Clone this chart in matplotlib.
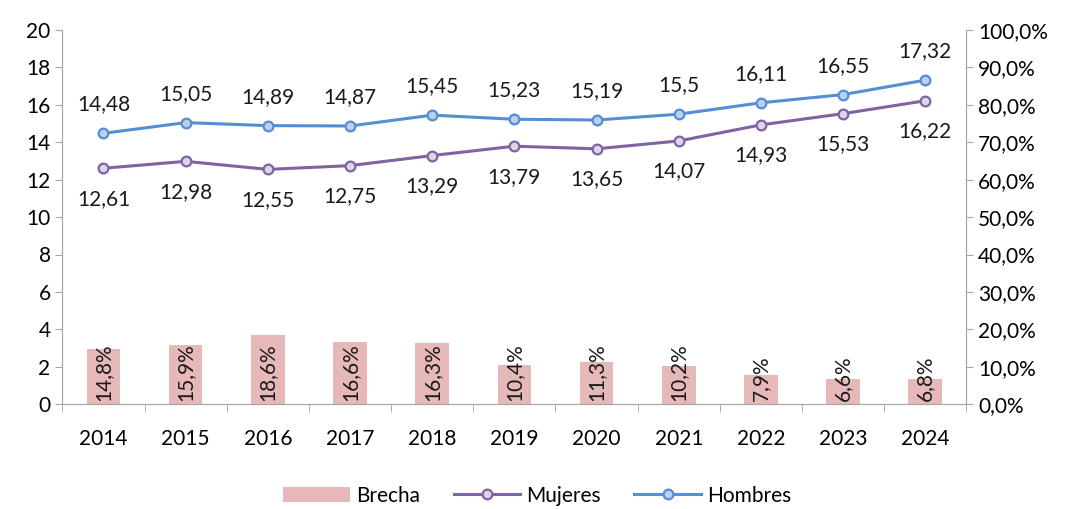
import matplotlib.pyplot as plt
import numpy as np

years = ['2014', '2015', '2016', '2017', '2018', '2019', '2020', '2021', '2022', '2023', '2024']
hombres = [14.48, 15.05, 14.89, 14.87, 15.45, 15.23, 15.19, 15.5, 16.11, 16.55, 17.32]
mujeres = [12.61, 12.98, 12.55, 12.75, 13.29, 13.79, 13.65, 14.07, 14.93, 15.53, 16.22]
brecha = [14.8, 15.9, 18.6, 16.6, 16.3, 10.4, 11.3, 10.2, 7.9, 6.6, 6.8]


def fmt(v, dec=None):
    s = f'{v:.{dec}f}' if dec is not None else f'{v:g}'
    return s.replace('.', ',')


plt.rcParams['font.family'] = ['Lato', 'DejaVu Sans']
plt.rcParams['font.size'] = 15

fig, ax = plt.subplots(figsize=(10.75, 5.09), dpi=100)
fig.subplots_adjust(left=0.058, right=0.899, top=0.941, bottom=0.206)
ax2 = ax.twinx()

x = np.arange(len(years))
ax2.bar(x, brecha, width=0.41, color='#E6B9B8', zorder=1, label='Brecha')
for xi, b in zip(x, brecha):
    ax2.text(xi, 0.9, fmt(b, 1) + '%', rotation=90, ha='center', va='bottom',
             fontsize=15, color='#1a1a1a')

ax.set_zorder(ax2.get_zorder() + 1)
ax.patch.set_visible(False)

ax.plot(x, mujeres, color='#8064A2', lw=2.2, marker='o', ms=7,
        mfc='#DDD5E8', mec='#8064A2', mew=1.6, label='Mujeres')
ax.plot(x, hombres, color='#558ED5', lw=2.2, marker='o', ms=7,
        mfc='#BBD0EA', mec='#558ED5', mew=1.6, label='Hombres')

for xi, h, m in zip(x, hombres, mujeres):
    ax.text(xi, h + 1.0, fmt(h), ha='center', va='bottom', fontsize=15, color='#1a1a1a')
    ax.text(xi, m - 1.1, fmt(m), ha='center', va='top', fontsize=15, color='#1a1a1a')

ax.set_xlim(-0.5, len(years) - 0.5)
ax.set_ylim(0, 20)
ax.set_yticks(np.arange(0, 21, 2))
ax2.set_ylim(0, 100)
ax2.set_yticks(np.arange(0, 101, 10))
ax2.set_yticklabels([fmt(v, 1) + '%' for v in np.arange(0, 101, 10)])

ax.set_xticks(x)
ax.set_xticklabels(years)
ax.set_xticks(np.arange(-0.5, len(years), 1), minor=True)
ax.tick_params(axis='x', which='major', length=0, pad=18)
ax.tick_params(axis='x', which='minor', length=6, color='#A6A6A6')
ax.tick_params(axis='y', length=5, color='#A6A6A6')
ax2.tick_params(axis='y', length=5, color='#A6A6A6')

for a in (ax, ax2):
    a.spines['top'].set_visible(False)
    for s in ('left', 'right', 'bottom'):
        a.spines[s].set_color('#A6A6A6')

h1, l1 = ax2.get_legend_handles_labels()
h2, l2 = ax.get_legend_handles_labels()
fig.legend(h1 + h2, l1 + l2, loc='lower center', ncol=3, frameon=False,
           bbox_to_anchor=(0.5, -0.03), fontsize=15, handlelength=3.2,
           handletextpad=0.3, columnspacing=1.6)

fig.savefig('out.png', dpi=100)
